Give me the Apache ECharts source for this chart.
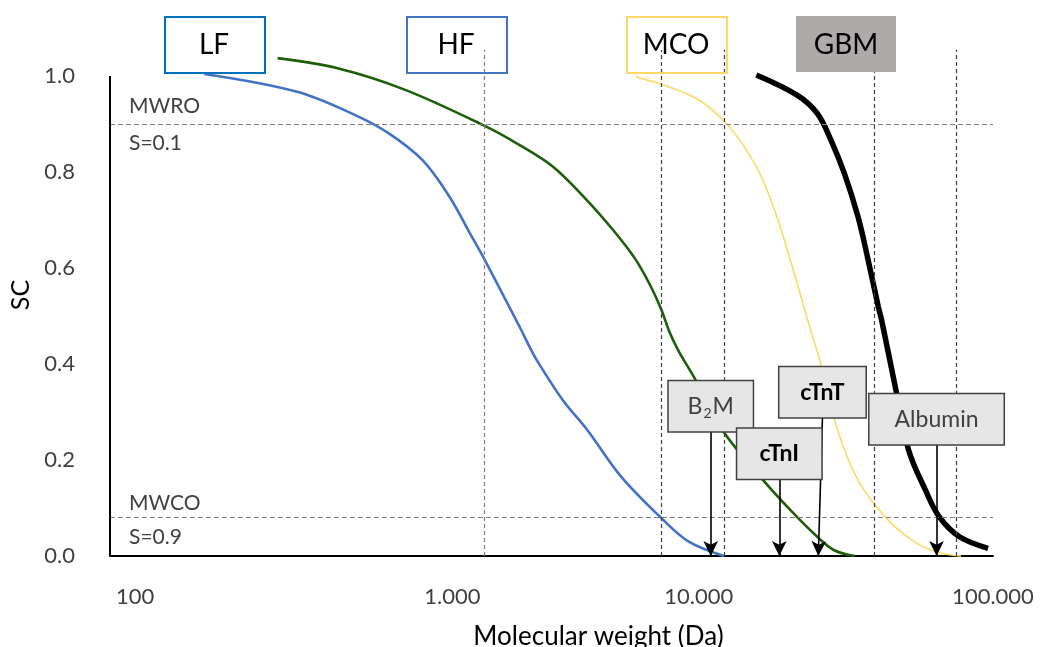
<!DOCTYPE html>
<html>
<head>
<meta charset="utf-8">
<script src="https://cdn.jsdelivr.net/npm/echarts@6/dist/echarts.min.js"></script>
<style>
  html, body { margin: 0; padding: 0; background: #fff; }
  #main { width: 1050px; height: 647px; }
</style>
</head>
<body>
<div id="main"></div>
<script>
// sieving coefficient curves, molecular weight (Da) vs SC
var lfMW  = [209, 432, 678, 883, 1151, 1422, 1667, 1875, 2466, 2667, 2818, 3452, 4190, 5460, 7500, 9250, 12200];
var lfSC  = [1.004, 0.967, 0.919, 0.881, 0.825, 0.749, 0.673, 0.617, 0.477, 0.435, 0.408, 0.325, 0.262, 0.165, 0.078, 0.030, 0.0];

var hfMW  = [371, 593, 1007, 1875, 2466, 3200, 4160, 5120, 6070, 6830, 7480, 7980, 8550, 9760, 12050, 16560, 20470, 25290, 28890, 33880];
var hfSC  = [1.037, 1.016, 0.971, 0.896, 0.856, 0.811, 0.742, 0.679, 0.620, 0.565, 0.512, 0.465, 0.427, 0.367, 0.262, 0.158, 0.096, 0.040, 0.012, 0.0];

var mcoMW = [6140, 9760, 12700, 15700, 17930, 20470, 23990, 25980, 29670, 34770, 42950, 53050, 63800, 77900];
var mcoSC = [0.998, 0.954, 0.894, 0.811, 0.728, 0.617, 0.471, 0.401, 0.262, 0.158, 0.082, 0.033, 0.009, 0.0];

var gbmMW = [15700, 21600, 25290, 28120, 31260, 34770, 37640, 40770, 41820, 46530, 51660, 58970, 65600, 76920, 96200];
var gbmSC = [1.002, 0.960, 0.922, 0.867, 0.797, 0.707, 0.617, 0.519, 0.492, 0.353, 0.221, 0.137, 0.082, 0.040, 0.016];

// vertical dashed cut-off lines
var cutoffMW = [1875, 7480, 12200, 39400, 75000];
// reference SC levels
var mwroSC = 0.9;
var mwcoSC = 0.08;

// marker proteins: name, MW, arrow start SC
var markerNames = ['B2M', 'cTnI', 'cTnT', 'Albumin'];
var markerMW    = [10990, 18790, 26340, 64300];
var markerMWEnd = [10990, 18790, 25500, 64300];
var markerTop   = [0.26, 0.161, 0.289, 0.233];

// membrane boxes at the top
var membranes = ['LF', 'HF', 'MCO', 'GBM'];

var fontFam = 'Lato, "Open Sans", sans-serif';
var yTop = 1.054;   // room above 1.0 for the cut-off lines

function zip(xs, ys) {
    var out = [];
    for (var i = 0; i < xs.length; i++) out.push([xs[i], ys[i]]);
    return out;
}

function dotted(v) {
    return String(Math.round(v)).replace(/\B(?=(\d{3})+(?!\d))/g, '.');
}

var myChart = echarts.init(document.getElementById('main'));

var markerBoxes = {
    'B2M':     { width: 84, bold: false },
    'cTnI':    { width: 84, bold: true },
    'cTnT':    { width: 86, bold: true },
    'Albumin': { width: 134, bold: false }
};

var arrowData = markerNames.map(function (name, i) {
    var box = markerBoxes[name];
    return [{
        coord: [markerMW[i], markerTop[i]],
        label: {
            show: true,
            position: 'start',
            distance: 0,
            formatter: name === 'B2M' ? '{n|B}{s|2}{n|M}' : name,
            backgroundColor: '#e7e6e6',
            borderColor: '#404040',
            borderWidth: 1.5,
            width: box.width,
            height: 50,
            lineHeight: 50,
            align: 'center',
            fontFamily: fontFam,
            fontSize: 23,
            fontWeight: box.bold ? 'bold' : 'normal',
            color: box.bold ? '#000' : '#404040',
            rich: {
                n: { fontFamily: fontFam, fontSize: 23, color: '#404040', lineHeight: 50 },
                s: { fontFamily: fontFam, fontSize: 14, color: '#404040', padding: [14, 1, 0, 1] }
            }
        }
    }, {
        coord: [markerMWEnd[i], 0]
    }];
});

var cutoffData = cutoffMW.map(function (mw, i) {
    return [{
        coord: [mw, 0],
        lineStyle: { color: i === 0 ? '#808080' : '#404040' }
    }, {
        coord: [mw, yTop]
    }];
});

function refLine(y, txt, where, d) {
    return {
        yAxis: y,
        label: {
            show: true,
            position: where,
            distance: [19, d],
            formatter: txt,
            fontFamily: fontFam,
            fontSize: 21,
            color: '#404040'
        }
    };
}

// top boxes
var boxX = [164, 406, 626, 796];
var boxStroke = ['#0070c0', '#4472c4', '#ffd966', null];
var graphics = [];
membranes.forEach(function (name, i) {
    graphics.push({
        type: 'rect',
        left: boxX[i], top: 16, z: 100,
        shape: { width: 100, height: 56 },
        style: boxStroke[i] ? { fill: 'rgba(255,255,255,0)', stroke: boxStroke[i], lineWidth: 2 } : { fill: '#aeaaaa' }
    });
    graphics.push({
        type: 'text',
        z: 101,
        x: boxX[i] + 50, y: 45,
        style: {
            text: name,
            textAlign: 'center', align: 'center',
            textVerticalAlign: 'middle', verticalAlign: 'middle',
            font: '28px ' + fontFam,
            fill: '#000'
        }
    });
});

var tickText = { fontFamily: fontFam, fontSize: 22, color: '#404040' };

var option = {
    backgroundColor: '#fff',
    animation: false,
    grid: { left: 110, right: 57, top: 50, bottom: 91, outerBoundsMode: 'none' },
    graphic: graphics,
    xAxis: {
        type: 'log',
        logBase: 10,
        min: 100,
        max: 100000,
        name: 'Molecular weight (Da)',
        nameLocation: 'middle',
        nameGap: 68,
        nameTextStyle: { fontFamily: fontFam, fontSize: 26, color: '#000', padding: [0, 0, 0, 94] },
        axisLine: { lineStyle: { color: '#000', width: 2 } },
        axisTick: { show: false },
        splitLine: { show: false },
        minorSplitLine: { show: false },
        axisLabel: {
            margin: 30,
            alignMinLabel: 'left',
            fontFamily: fontFam,
            fontSize: 22,
            color: '#404040',
            formatter: function (v) {
                var t = dotted(v);
                if (Math.round(v) === 100) return '{a|' + t + '}';
                if (Math.round(v) === 1000) return '{m|' + t + '}';
                return t;
            },
            rich: {
                a: Object.assign({ padding: [0, 0, 0, 6] }, tickText),
                m: Object.assign({ padding: [0, 0, 0, 96] }, tickText)
            }
        }
    },
    yAxis: {
        type: 'value',
        min: 0,
        max: yTop,
        interval: 0.2,
        name: 'SC',
        nameLocation: 'middle',
        nameGap: 74,
        nameTextStyle: { fontFamily: fontFam, fontSize: 25, color: '#000', padding: [0, 0, 0, 16] },
        axisLine: { show: false },
        axisTick: { show: false },
        splitLine: { show: false },
        axisLabel: {
            margin: 35,
            fontFamily: fontFam,
            fontSize: 22,
            color: '#404040',
            formatter: function (v) { return v > 1.0001 ? '' : v.toFixed(1); }
        }
    },
    series: [
        {
            name: 'LF', type: 'line', data: zip(lfMW, lfSC), smooth: 0.35, showSymbol: false, clip: false, z: 3,
            lineStyle: { color: '#4472c4', width: 2.6 }
        },
        {
            name: 'HF', type: 'line', data: zip(hfMW, hfSC), smooth: 0.35, showSymbol: false, clip: false, z: 3,
            lineStyle: { color: '#1d5e0b', width: 2.6 }
        },
        {
            name: 'MCO', type: 'line', data: zip(mcoMW, mcoSC), smooth: 0.35, showSymbol: false, clip: false, z: 3,
            lineStyle: { color: '#ffd966', width: 1.6 }
        },
        {
            name: 'GBM', type: 'line', data: zip(gbmMW, gbmSC), smooth: 0.35, showSymbol: false, clip: false, z: 3,
            lineStyle: { color: '#000', width: 5.5 }
        },
        {
            name: 'cutoffs', type: 'line', data: [], clip: false, z: 1, silent: true,
            markLine: {
                silent: true,
                symbol: ['none', 'none'],
                label: { show: false },
                lineStyle: { type: [4, 3], width: 1.2, color: '#404040' },
                data: cutoffData
            }
        },
        {
            name: 'levels', type: 'line', data: [], clip: false, z: 1, silent: true,
            markLine: {
                silent: true,
                symbol: ['none', 'none'],
                lineStyle: { type: [5, 3], width: 1.2, color: '#7f7f7f' },
                data: [
                    refLine(mwroSC, 'MWRO', 'insideStartTop', 7),
                    refLine(mwroSC, 'S=0.1', 'insideStartBottom', 9),
                    refLine(mwcoSC, 'MWCO', 'insideStartTop', 4),
                    refLine(mwcoSC, 'S=0.9', 'insideStartBottom', 9)
                ]
            }
        },
        {
            // y axis line, drawn only up to 1.0
            name: 'yaxis', type: 'line', data: [], clip: false, z: 4, silent: true,
            markLine: {
                silent: true,
                symbol: ['none', 'none'],
                label: { show: false },
                lineStyle: { type: 'solid', width: 2, color: '#000' },
                data: [[{ coord: [100, 0] }, { coord: [100, 1] }]]
            }
        },
        {
            name: 'markers', type: 'line', data: [], clip: false, z: 10, silent: true,
            markLine: {
                silent: true,
                symbol: ['none', 'arrow'],
                symbolSize: [11, 15],
                lineStyle: { type: 'solid', width: 1.6, color: '#000' },
                data: arrowData
            }
        }
    ]
};

myChart.setOption(option);
</script>
</body>
</html>
